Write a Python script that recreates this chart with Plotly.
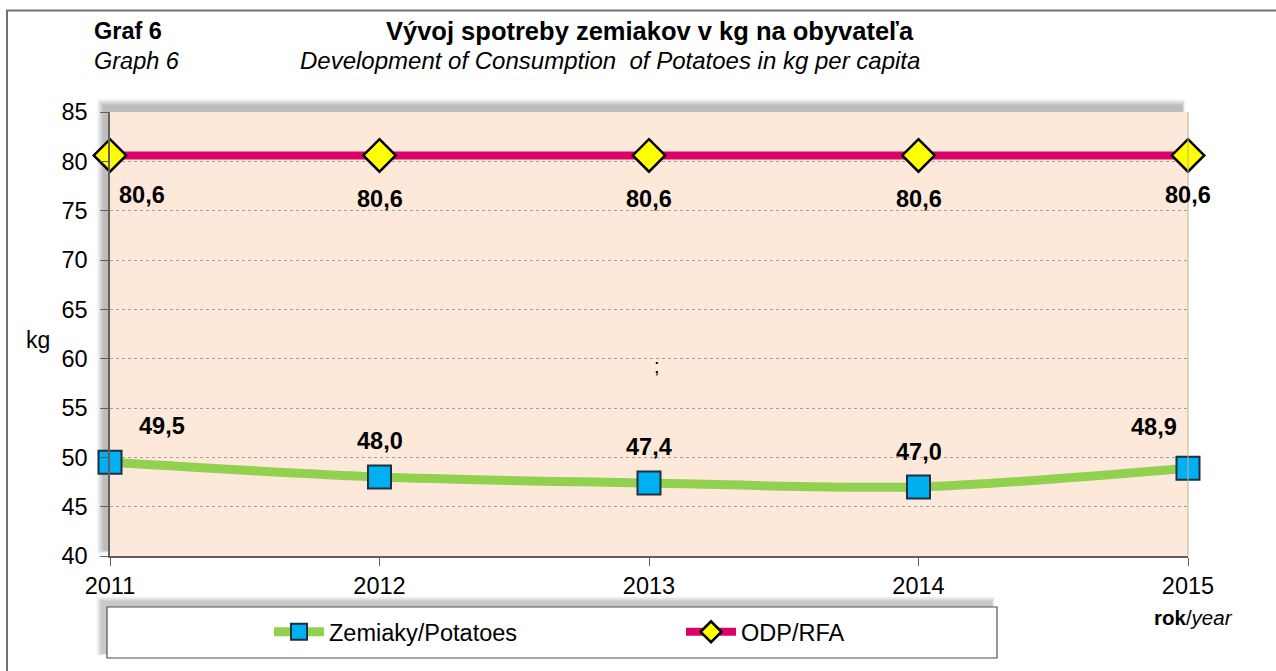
import plotly.graph_objects as go

years = [2011, 2012, 2013, 2014, 2015]
potatoes = [49.5, 48.0, 47.4, 47.0, 48.9]
rfa = [80.6, 80.6, 80.6, 80.6, 80.6]
y_ticks = [40, 45, 50, 55, 60, 65, 70, 75, 80, 85]

FONT = "Liberation Sans, Arial, sans-serif"
W, H = 1276, 671
L, R, T, B = 110, 1188, 112, 556  # plot area in pixels


def px(x):
    return (x - L) / (R - L)


def py(y):
    return (B - y) / (B - T)


def fmt(v):
    return f"{v:.1f}".replace(".", ",")


fig = go.Figure()

fig.add_trace(go.Scatter(
    x=years, y=potatoes, name="Zemiaky/Potatoes", mode="lines+markers",
    line=dict(color="#92D050", width=9, shape="spline", smoothing=0.8),
    marker=dict(symbol="square", size=23, color="#00B0F0",
                line=dict(color="#1F2F3F", width=2)),
    cliponaxis=False,
))
fig.add_trace(go.Scatter(
    x=years, y=rfa, name="ODP/RFA", mode="lines+markers",
    line=dict(color="#DC0069", width=8),
    marker=dict(symbol="diamond", size=25, color="#FFFF00",
                line=dict(color="#000000", width=2.5)),
    cliponaxis=False,
))

shapes = []


def shadow(x0, y0, x1, y1, n=10, off=6, a=0.028):
    for i in range(n):
        g = n - i
        shapes.append(dict(
            type="rect", xref="paper", yref="paper", layer="below",
            x0=px(x0 - off - g * 0.7), x1=px(x1 - off + g * 0.3),
            y0=py(y1 - off + g * 0.3), y1=py(y0 - off - g * 0.7),
            line=dict(width=0), fillcolor=f"rgba(0,0,0,{a})",
        ))


# outer frame
shapes.append(dict(type="rect", xref="paper", yref="paper", layer="below",
                   x0=px(7), x1=px(1300), y0=py(700), y1=py(10.5),
                   line=dict(color="#707070", width=2), fillcolor="rgba(0,0,0,0)"))
# plot area shadow + background
shadow(L, T, R, B)
shapes.append(dict(type="rect", xref="paper", yref="paper", layer="below",
                   x0=0, x1=1, y0=0, y1=1, line=dict(width=0), fillcolor="#FCE9DA"))
shapes.append(dict(type="line", xref="paper", yref="paper",
                   x0=1, x1=1, y0=0, y1=1, line=dict(color="#C4AE98", width=1)))
# legend box
shadow(107, 607, 997, 658, n=8, off=5)
shapes.append(dict(type="rect", xref="paper", yref="paper", layer="below",
                   x0=px(107), x1=px(997), y0=py(658), y1=py(607),
                   line=dict(color="#505050", width=1.2), fillcolor="#FFFFFF"))

annotations = []
LBL = dict(family=FONT, size=23.5, color="#000")
# RFA labels (below right of markers)
rfa_shift = [(32, -40), (0, -44), (0, -44), (0, -44), (0, -40)]
for x, v, (dx, dy) in zip(years, rfa, rfa_shift):
    annotations.append(dict(x=x, y=v, xref="x", yref="y", text=f"<b>{fmt(v)}</b>",
                            showarrow=False, xshift=dx, yshift=dy, font=LBL))
# potato labels
pot_shift = [(52, 36), (0, 36), (0, 36), (0, 35), (-34, 41)]
for x, v, (dx, dy) in zip(years, potatoes, pot_shift):
    annotations.append(dict(x=x, y=v, xref="x", yref="y", text=f"<b>{fmt(v)}</b>",
                            showarrow=False, xshift=dx, yshift=dy, font=LBL))

TF = dict(family=FONT, size=23.5, color="#000")
annotations += [
    dict(x=px(92), y=py(31), xref="paper", yref="paper", xanchor="left", yanchor="middle",
         text="<b>Graf 6</b>", showarrow=False, font=TF),
    dict(x=px(92), y=py(61), xref="paper", yref="paper", xanchor="left", yanchor="middle",
         text="<i>Graph 6</i>", showarrow=False, font=TF),
    dict(x=px(650), y=py(31), xref="paper", yref="paper", xanchor="center", yanchor="middle",
         text="<b>Vývoj spotreby zemiakov v kg na obyvateľa</b>", showarrow=False,
         font=dict(family=FONT, size=25.5, color="#000")),
    dict(x=px(298), y=py(61), xref="paper", yref="paper", xanchor="left", yanchor="middle",
         text="<i>Development of Consumption  of Potatoes in kg per capita</i>", showarrow=False,
         font=dict(family=FONT, size=24, color="#000")),
    dict(x=px(38), y=py(340), xref="paper", yref="paper", xanchor="center", yanchor="middle",
         text="kg", showarrow=False, font=dict(family=FONT, size=23, color="#000")),
    dict(x=px(1193), y=py(617), xref="paper", yref="paper", xanchor="center", yanchor="middle",
         text="<b>rok</b>/<i>year</i>", showarrow=False, font=dict(family=FONT, size=20.5, color="#000")),
    dict(x=px(657), y=py(366), xref="paper", yref="paper", xanchor="center", yanchor="middle",
         text=";", showarrow=False, font=dict(family=FONT, size=20, color="#000")),
]

fig.update_layout(
    width=W, height=H,
    margin=dict(l=L, r=W - R, t=T, b=H - B),
    paper_bgcolor="#FFFFFF", plot_bgcolor="rgba(0,0,0,0)",
    font=dict(family=FONT, size=23.5, color="#000"),
    shapes=shapes, annotations=annotations,
    showlegend=True,
    legend=dict(orientation="h", x=px(269), y=py(632), xanchor="left", yanchor="middle",
                bgcolor="rgba(0,0,0,0)", borderwidth=0,
                font=dict(family=FONT, size=23.5, color="#000"),
                entrywidth=347, entrywidthmode="pixels", itemwidth=50,
                traceorder="normal"),
)
AX = dict(showline=True, linecolor="#606060", linewidth=1.5, zeroline=False,
          ticks="outside", ticklen=8, tickcolor="#606060", tickwidth=1,
          tickfont=dict(family=FONT, size=23.5, color="#000"))
fig.update_xaxes(range=[2011, 2015], tickvals=years, ticktext=[str(y) for y in years],
                 showgrid=False, **AX)
fig.update_yaxes(range=[40, 85], tickvals=y_ticks, ticklabelstandoff=8,
                 showgrid=True, gridcolor="#A8A098", griddash="dot", gridwidth=1, **AX)

fig.write_html("out.html", post_script="document.body.style.margin='0px';",
               config={"displayModeBar": False})
